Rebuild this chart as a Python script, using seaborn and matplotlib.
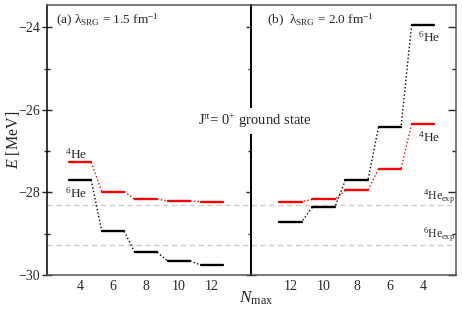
import matplotlib
matplotlib.use("Agg")
import matplotlib.pyplot as plt
import pandas as pd
import seaborn as sns

# energies in MeV
nmax = [4, 6, 8, 10, 12]
he4_a = [-27.27, -27.98, -28.16, -28.21, -28.22]   # lambda = 1.5
he6_a = [-27.70, -28.94, -29.45, -29.66, -29.76]
he4_b = [-26.34, -27.43, -27.95, -28.17, -28.22]   # lambda = 2.0
he6_b = [-23.94, -26.42, -27.70, -28.36, -28.71]
he4_exp = -28.30
he6_exp = -29.27

HW = 0.68  # half width of a level bar

sns.set_style("ticks")
plt.rcParams["font.family"] = ["Liberation Serif", "DejaVu Serif"]
plt.rcParams["mathtext.fontset"] = "custom"
plt.rcParams["mathtext.rm"] = "Liberation Serif"
plt.rcParams["mathtext.it"] = "Liberation Serif:italic"
plt.rcParams["mathtext.bf"] = "Liberation Serif:bold"


def draw_levels(ax, n, e, color):
    seg = pd.DataFrame({
        "x": [v + s * HW for v in n for s in (-1, 1)],
        "E": [v for v in e for _ in (0, 1)],
        "lev": [i for i in range(len(n)) for _ in (0, 1)],
    })
    sns.lineplot(data=seg, x="x", y="E", units="lev", estimator=None, sort=False,
                 color=color, lw=1.7, ax=ax, legend=False)
    con = pd.DataFrame({
        "x": [v for i in range(len(n) - 1) for v in (n[i] + HW, n[i + 1] - HW)],
        "E": [v for i in range(len(n) - 1) for v in (e[i], e[i + 1])],
        "lev": [i for i in range(len(n) - 1) for _ in (0, 1)],
    })
    sns.lineplot(data=con, x="x", y="E", units="lev", estimator=None, sort=False,
                 color=color, lw=1.0, linestyle=":", ax=ax, legend=False)


W, H = 463, 312
fig = plt.figure(figsize=(W / 100, H / 100), dpi=100)
ax1 = fig.add_axes([47 / W, 1 - 275 / H, (250.7 - 47) / W, 270 / H])
ax2 = fig.add_axes([250.7 / W, 1 - 275 / H, (456 - 250.7) / W, 270 / H])

for ax in (ax1, ax2):
    ax.axhline(he4_exp, color="#cccccc", lw=1.0, dashes=(3.8, 2.6), zorder=1)
    ax.axhline(he6_exp, color="#cccccc", lw=1.0, dashes=(3.8, 2.6), zorder=1)

draw_levels(ax1, nmax, he4_a, "red")
draw_levels(ax1, nmax, he6_a, "black")
draw_levels(ax2, nmax, he4_b, "red")
draw_levels(ax2, nmax, he6_b, "black")

ax1.set_xlim(2, 14.35)
ax2.set_xlim(14.4, 2)
for ax in (ax1, ax2):
    ax.set_ylim(-30, -23.46)
    ax.set_xticks(nmax)
    ax.set_xticklabels([str(v) for v in nmax], fontsize=10)
    ax.set_yticks([-30, -28, -26, -24])
    ax.set_yticks([-29, -27, -25], minor=True)
    ax.set_xlabel("")
    ax.set_ylabel("")
    ax.tick_params(axis="x", length=0, pad=3.5)
    for side in ("top", "right", "bottom", "left"):
        ax.spines[side].set_visible(True)
        ax.spines[side].set_color("#555555")
        ax.spines[side].set_linewidth(1.1)

ax1.spines["left"].set_color("black")
ax1.spines["right"].set_color("black")
ax2.spines["left"].set_color("black")
ax1.spines["right"].set_linewidth(1.4)
ax2.spines["left"].set_linewidth(1.4)

ax1.tick_params(axis="y", which="major", direction="inout", length=7.5, width=1.0,
                left=True, right=True, labelsize=10, pad=1)
ax1.tick_params(axis="y", which="minor", direction="inout", length=5, width=1.0,
                left=True, right=True)
ax2.tick_params(axis="y", which="major", direction="in", length=5.5, width=1.0,
                left=False, right=True, labelleft=False, labelright=False)
ax2.tick_params(axis="y", which="minor", direction="in", length=2.8, width=1.0,
                left=False, right=True)

# panel titles
ax1.text(2.55, -23.92, r"(a) λ$_{\rm SRG}$ = 1.5 fm$^{-1}$", fontsize=9.5, va="baseline")
ax2.text(13.4, -23.92, r"(b)  λ$_{\rm SRG}$ = 2.0 fm$^{-1}$", fontsize=9.5, va="baseline")

# nucleus labels
ax1.text(3.1, -27.07, r"$^{4}$He", fontsize=9.5, va="center")
ax1.text(3.1, -28.02, r"$^{6}$He", fontsize=9.5, va="center")
ax2.text(4.3, -24.25, r"$^{6}$He", fontsize=9.5, va="center")
ax2.text(4.3, -26.67, r"$^{4}$He", fontsize=9.5, va="center")
ax2.text(2.05, -28.17, r"$^{4}$He$_{\rm exp}$", fontsize=8.5, ha="right", va="baseline")
ax2.text(2.05, -29.10, r"$^{6}$He$_{\rm exp}$", fontsize=8.5, ha="right", va="baseline")

fig.text(255 / W, 1 - 121 / H, r"J$^{\rm π}$= 0$^{+}$ ground state", fontsize=10.5,
         ha="center", va="center", zorder=5,
         bbox=dict(facecolor="white", edgecolor="none", pad=2.5))

fig.text(13 / W, 1 - 140 / H, r"$E$ [MeV]", fontsize=11.5, rotation=90,
         ha="center", va="center")
fig.text(256 / W, 1 - 298 / H, r"$N_{\rm max}$", fontsize=12.5, ha="center", va="center")

fig.savefig("out.png", dpi=100)
